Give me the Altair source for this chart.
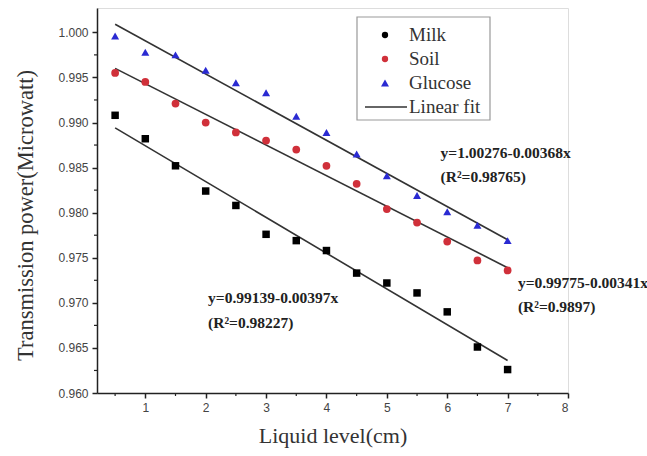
import altair as alt
import pandas as pd

# ---- data ----
levels = [0.5, 1, 1.5, 2, 2.5, 3, 3.5, 4, 4.5, 5, 5.5, 6, 6.5, 7]
milk = [0.9908, 0.9882, 0.9852, 0.9824, 0.9808, 0.9776, 0.9769, 0.9758, 0.9733, 0.9722, 0.9711, 0.9690, 0.9651, 0.9626]
soil = [0.9955, 0.9945, 0.9921, 0.9900, 0.9889, 0.9880, 0.9870, 0.9852, 0.9832, 0.9804, 0.9789, 0.9768, 0.9747, 0.9736]
glucose = [0.9996, 0.9978, 0.9975, 0.9958, 0.9944, 0.9933, 0.9907, 0.9889, 0.9865, 0.9841, 0.9819, 0.9801, 0.9786, 0.9769]

series_names = ["Milk", "Soil", "Glucose"]
series_colors = ["#000000", "#d0303a", "#2a2ad2"]
series_shapes = ["square", "circle", "triangle-up"]
series_sizes = [56, 64, 110]

fit_x = [0.5, 7]
fit_milk = [0.9894, 0.9636]
fit_soil = [0.9960, 0.9739]
fit_glucose = [1.0009, 0.9770]

ann_text = ["y=1.00276-0.00368x", "(R²=0.98765)",
            "y=0.99775-0.00341x", "(R²=0.9897)",
            "y=0.99139-0.00397x", "(R²=0.98227)"]
ann_x = [5.89, 5.89, 7.17, 7.17, 2.04, 2.04]
ann_y = [0.9861, 0.98335, 0.9717, 0.96895, 0.9700, 0.96725]

x_ticks = [1, 2, 3, 4, 5, 6, 7, 8]
x_minor = [0.5, 1.5, 2.5, 3.5, 4.5, 5.5, 6.5, 7.5]
y_ticks = [0.960, 0.965, 0.970, 0.975, 0.980, 0.985, 0.990, 0.995, 1.000]
y_minor = [0.9625, 0.9675, 0.9725, 0.9775, 0.9825, 0.9875, 0.9925, 0.9975]

legend_labels = ["Milk", "Soil", "Glucose", "Linear fit"]

# ---- tables ----
pts = pd.DataFrame({
    "level": levels * 3,
    "power": milk + soil + glucose,
    "series": ["Milk"] * len(levels) + ["Soil"] * len(levels) + ["Glucose"] * len(levels),
})
fits = pd.DataFrame({
    "level": fit_x * 3,
    "power": fit_milk + fit_soil + fit_glucose,
    "series": ["Milk"] * 2 + ["Soil"] * 2 + ["Glucose"] * 2,
})
ann = pd.DataFrame({"text": ann_text, "level": ann_x, "power": ann_y})
xminor_df = pd.DataFrame({"v": x_minor})
yminor_df = pd.DataFrame({"v": y_minor})

W, H = 471, 385
xscale = alt.Scale(domain=[0.2, 8], nice=False, zero=False)
yscale = alt.Scale(domain=[0.96, 1.0027], nice=False, zero=False)

serif = "Liberation Serif"
sans = "Liberation Sans"

xaxis = alt.Axis(values=x_ticks, format="d", title="Liquid level(cm)", grid=False,
                 labelFont=sans, labelFontSize=12, labelColor="#444", labelPadding=4,
                 tickSize=5, tickWidth=1.5, tickColor="#222", domainColor="#222", domainWidth=1.5,
                 titleFont=serif, titleFontSize=22, titleFontWeight="normal", titleColor="#333",
                 titlePadding=12)
yaxis = alt.Axis(values=y_ticks, format=".3f", title="Transmission power(Microwatt)", grid=False,
                 labelFont=sans, labelFontSize=12, labelColor="#444", labelPadding=4,
                 tickSize=5, tickWidth=1.5, tickColor="#222", domainColor="#222", domainWidth=1.5,
                 titleFont=serif, titleFontSize=22.5, titleFontWeight="normal", titleColor="#333",
                 titlePadding=20, titleY=207)

X = lambda f: alt.X(f, type="quantitative", scale=xscale, axis=xaxis)
Y = lambda f: alt.Y(f, type="quantitative", scale=yscale, axis=yaxis)

color_scale = alt.Scale(domain=series_names, range=series_colors)
shape_scale = alt.Scale(domain=series_names, range=series_shapes)
size_scale = alt.Scale(domain=series_names, range=series_sizes)

points = alt.Chart(pts).mark_point(filled=True, opacity=1).encode(
    x=X("level"), y=Y("power"),
    color=alt.Color("series:N", scale=color_scale, legend=None),
    shape=alt.Shape("series:N", scale=shape_scale, legend=None),
    size=alt.Size("series:N", scale=size_scale, legend=None),
)

lines = alt.Chart(fits).mark_line(color="#333", strokeWidth=1.6).encode(
    x=X("level"), y=Y("power"), detail="series:N"
)

texts = alt.Chart(ann).mark_text(align="left", baseline="alphabetic", font=serif,
                                 fontWeight="bold", fontSize=15.5, color="#222").encode(
    x=X("level"), y=Y("power"), text="text:N"
)

yminor = alt.Chart(yminor_df).mark_rule(color="#222", strokeWidth=1.2).encode(
    y=Y("v"), x=alt.value(-3), x2=alt.value(0)
)
xminor = alt.Chart(xminor_df).mark_rule(color="#222", strokeWidth=1.2).encode(
    x=X("v"), y=alt.value(H), y2=alt.value(H + 3)
)

# ---- legend box (pixel layout) ----
lx0, lx1, ly0, ly1 = 260, 393, 9, 112
sym_x, txt_x = 288, 312
row_y = [27, 51, 75, 99]
leg_df = pd.DataFrame({"label": legend_labels})

box = alt.Chart(leg_df.head(1)).mark_rect(fill="white", stroke="#999", strokeWidth=1.2).encode(
    x=alt.value(lx0), x2=alt.value(lx1), y=alt.value(ly0), y2=alt.value(ly1)
)
legend_layers = [box]
for i, name in enumerate(series_names):
    legend_layers.append(
        alt.Chart(leg_df.iloc[[i]]).mark_point(filled=True, size=40 if i < 2 else 64, opacity=1,
                                                shape="circle" if i < 2 else "triangle-up",
                                                color=series_colors[i]).encode(
            x=alt.value(sym_x), y=alt.value(row_y[i]))
    )
legend_layers.append(
    alt.Chart(leg_df.iloc[[3]]).mark_rule(color="#333", strokeWidth=1.6).encode(
        x=alt.value(lx0 + 8), x2=alt.value(txt_x - 2), y=alt.value(row_y[3]))
)
for i, lab in enumerate(legend_labels):
    legend_layers.append(
        alt.Chart(leg_df.iloc[[i]]).mark_text(align="left", baseline="middle", font=serif,
                                               fontSize=19, color="#333").encode(
            x=alt.value(txt_x), y=alt.value(row_y[i]), text="label:N")
    )

chart = alt.layer(yminor, xminor, lines, points, texts, *legend_layers).properties(
    width=W, height=H,
    autosize=alt.AutoSizeParams(type="none"),
    padding={"left": 97, "top": 8, "right": 647 - 97 - W, "bottom": 456 - 8 - H},
).configure_view(stroke=None).configure(background="white")

chart.save("out.html", embed_options={"renderer": "svg", "actions": False})
